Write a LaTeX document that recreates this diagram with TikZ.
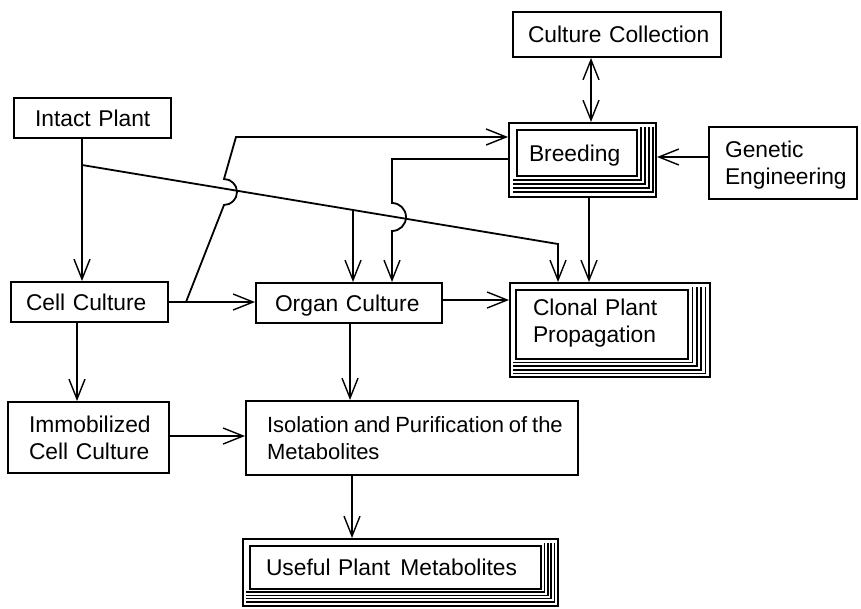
\documentclass[tikz,border=0pt]{standalone}
\usepackage{fontspec}
\setmainfont{Liberation Sans}
\usetikzlibrary{arrows.meta,calc}
\begin{document}
\begin{tikzpicture}[x=1pt,y=-1pt,
  >={Straight Barb[length=20pt,width=16pt,line width=1.4pt]},
  box/.style={draw, line width=2pt, inner ysep=0pt, align=left,
    font=\fontsize{22.8}{27}\selectfont, text height=16pt, text depth=0pt},
  arr/.style={line width=1.8pt, ->},
  dblarr/.style={line width=1.8pt, <->},
  stack/.style={line width=1.7pt}
]
\useasboundingbox (0,0) rectangle (861,608);

% boxes
\node[box, minimum width=208pt, minimum height=45pt, text width=178pt, inner xsep=15pt] (cc) at (617,34.5) {\mbox{Culture Collection}};
\node[box, minimum width=157pt, minimum height=40pt, text width=115pt, inner xsep=21pt] (ip) at (92.5,118) {\mbox{Intact Plant}};
\node[box, minimum width=148pt, minimum height=72pt, text width=116pt, inner xsep=16pt, text depth=27pt] (ge) at (783,163) {\mbox{Genetic}\\\mbox{Engineering}};
\node[box, minimum width=157pt, minimum height=40pt, text width=127pt, inner xsep=15pt] (cell) at (89.5,302) {\mbox{Cell Culture}};
\node[box, minimum width=186pt, minimum height=40pt, text width=148pt, inner xsep=19pt] (org) at (349,303) {\mbox{Organ Culture}};
\node[box, minimum width=161pt, minimum height=71pt, text width=119pt, inner xsep=21pt, text depth=27pt] (imm) at (88.5,437.5) {\mbox{Immobilized}\\\mbox{Cell Culture}};
\node[box, minimum width=332pt, minimum height=74pt, text width=290pt, inner xsep=21pt, text depth=27pt,
  font=\fontsize{22}{27}\selectfont] (iso) at (412,438) {\spaceskip=0.22em plus 0.1em minus 0.1em\relax\mbox{Isolation and Purification of the}\\\mbox{Metabolites}};
\node[box, minimum width=147pt, minimum height=74pt, text width=107pt, inner xsep=20pt, text depth=14pt] (brd) at (582.5,160) {\mbox{Breeding}};
\node[box, minimum width=200pt, minimum height=94pt, text width=154pt, inner xsep=23pt, text depth=45pt] (cl) at (610,330) {\mbox{Clonal Plant}\\\mbox{Propagation}};
\node[box, minimum width=315pt, minimum height=67pt, text width=269pt, inner xsep=23pt, text depth=11pt] (use) at (400.5,572.5) {\mbox{Useful Plant\hspace{0.45em}Metabolites}};

% stacked frames
\draw[stack] (517,130) rectangle (637,176);
\foreach \k in {1,...,4}{
  \draw[stack] (637+4*\k,127) -- (637+4*\k,176+4*\k) -- (513,176+4*\k);
}
\draw[stack] (516,290) rectangle (688,359);
\foreach \k in {1,...,4}{
  \draw[stack] (688+4.4*\k,287) -- (688+4.4*\k,359+3.6*\k) -- (513,359+3.6*\k);
}
\draw[stack] (250,546) rectangle (541,589);
\foreach \k in {1,...,4}{
  \draw[stack] (541+3.4*\k,543) -- (541+3.4*\k,589+3.2*\k) -- (246,589+3.2*\k);
}

% helper coordinates
\coordinate (j1) at (82,165);
\coordinate (j2) at (558,244);
\coordinate (j3) at (353,210);
\coordinate (j4) at (186,302);
\coordinate (b1) at (236,137);
\coordinate (b2) at (392,159);
\coordinate (xbc) at (589,0);
\coordinate (xcc) at (591,0);
\coordinate (yge) at (0,157);
\coordinate (yoc) at (0,300);
\coordinate (xci) at (77,0);
\coordinate (xoi) at (350,0);
\coordinate (yii) at (0,436);
\coordinate (xiu) at (352,0);

% connectors
\draw[arr] (ip.south -| j1) -- (cell.north -| j1);
\draw[arr] (j1) -- (j2) -- (cl.north -| j2);
\draw[arr] (j3) -- (org.north -| j3);
\draw[arr] (cell.east) -- (cell.east -| org.west);
\draw[arr] (j4) -- (224,205) arc[start angle=90,end angle=-90,radius=13] -- (b1) -- (b1 -| brd.west);
\draw[arr] (b2 -| brd.west) -- (b2) -- (392,203) arc[start angle=-90,end angle=90,radius=14] -- (org.north -| b2);
\draw[arr] (brd.south -| xbc) -- (cl.north -| xbc);
\draw[dblarr] (cc.south -| xcc) -- (brd.north -| xcc);
\draw[arr] (ge.west |- yge) -- (brd.east |- yge);
\draw[arr] (org.east |- yoc) -- (cl.west |- yoc);
\draw[arr] (cell.south -| xci) -- (imm.north -| xci);
\draw[arr] (org.south -| xoi) -- (iso.north -| xoi);
\draw[arr] (imm.east |- yii) -- (iso.west |- yii);
\draw[arr] (iso.south -| xiu) -- (use.north -| xiu);
\end{tikzpicture}
\end{document}
